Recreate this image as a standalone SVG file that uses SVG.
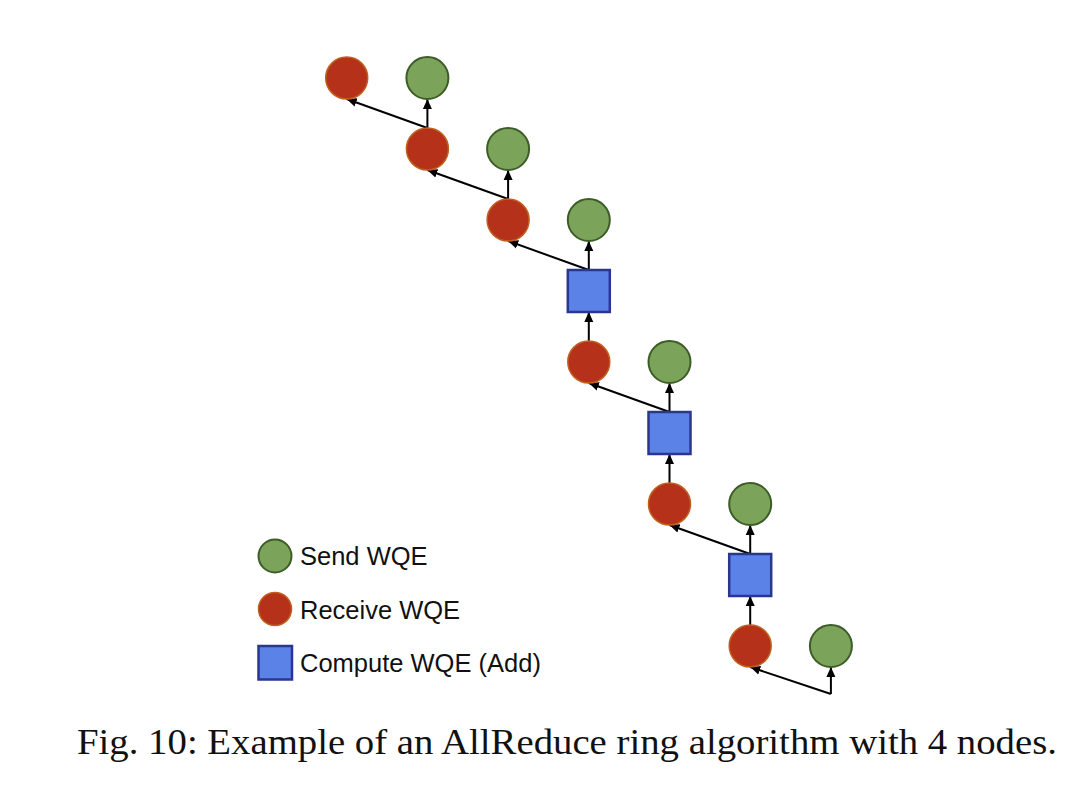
<svg xmlns="http://www.w3.org/2000/svg" width="1080" height="796" viewBox="0 0 1080 796">
<style>
.send{fill:#7ba35a;stroke:#3d5c27;stroke-width:2}
.recv{fill:#b5311a;stroke:#c0601f;stroke-width:1.5}
.comp{fill:#5b82e6;stroke:#2a3690;stroke-width:2.5}
.edge{stroke:#000;stroke-width:2;fill:none;marker-end:url(#ah)}
.lbl{font-family:'Liberation Sans',Arial,sans-serif;font-size:25.5px;fill:#111}
.cap{font-family:'Liberation Serif','Times New Roman',serif;font-size:35px;fill:#111}
</style>
<defs>
<marker id="ah" markerUnits="userSpaceOnUse" markerWidth="10" markerHeight="10" viewBox="0 0 10 10" refX="10" refY="5" orient="auto">
<path d="M0,0.5 L10,5 L0,9.5 z" fill="#000"/>
</marker>
</defs>
<rect width="1080" height="796" fill="#fff"/>
<g id="connectors">
<line class="edge" x1="427.4" y1="128" x2="427.4" y2="99"/>
<line class="edge" x1="427.4" y1="128" x2="346.7" y2="99"/>
<line class="edge" x1="508.1" y1="199" x2="508.1" y2="170"/>
<line class="edge" x1="508.1" y1="199" x2="427.4" y2="170"/>
<line class="edge" x1="588.8" y1="270" x2="588.8" y2="241"/>
<line class="edge" x1="588.8" y1="270" x2="508.1" y2="241"/>
<line class="edge" x1="588.8" y1="341" x2="588.8" y2="312"/>
<line class="edge" x1="669.5" y1="412" x2="669.5" y2="383"/>
<line class="edge" x1="669.5" y1="412" x2="588.8" y2="383"/>
<line class="edge" x1="669.5" y1="483" x2="669.5" y2="454"/>
<line class="edge" x1="750.2" y1="554" x2="750.2" y2="525"/>
<line class="edge" x1="750.2" y1="554" x2="669.5" y2="525"/>
<line class="edge" x1="750.2" y1="625" x2="750.2" y2="596"/>
<line class="edge" x1="830.9" y1="694" x2="830.9" y2="667"/>
<line class="edge" x1="830.9" y1="694" x2="750.2" y2="667"/>
</g>
<g id="r0"><circle class="recv" cx="346.7" cy="78" r="21"/></g>
<g id="s0"><circle class="send" cx="427.4" cy="78" r="21"/></g>
<g id="r1"><circle class="recv" cx="427.4" cy="149" r="21"/></g>
<g id="s1"><circle class="send" cx="508.1" cy="149" r="21"/></g>
<g id="r2"><circle class="recv" cx="508.1" cy="220" r="21"/></g>
<g id="s2"><circle class="send" cx="588.8" cy="220" r="21"/></g>
<g id="c0"><rect class="comp" x="567.8" y="270" width="42" height="42"/></g>
<g id="r3"><circle class="recv" cx="588.8" cy="362" r="21"/></g>
<g id="s3"><circle class="send" cx="669.5" cy="362" r="21"/></g>
<g id="c1"><rect class="comp" x="648.5" y="412" width="42" height="42"/></g>
<g id="r4"><circle class="recv" cx="669.5" cy="504" r="21"/></g>
<g id="s4"><circle class="send" cx="750.2" cy="504" r="21"/></g>
<g id="c2"><rect class="comp" x="729.2" y="554" width="42" height="42"/></g>
<g id="r5"><circle class="recv" cx="750.2" cy="646" r="21"/></g>
<g id="s5"><circle class="send" cx="830.9" cy="646" r="21"/></g>
<g id="legend">
<circle class="send" cx="275" cy="556" r="16.5"/>
<text class="lbl" x="300" y="565">Send WQE</text>
<circle class="recv" cx="275" cy="609" r="16.5"/>
<text class="lbl" x="300" y="618.5">Receive WQE</text>
<rect class="comp" x="258.5" y="646" width="33.5" height="33.5"/>
<text class="lbl" x="300" y="672">Compute WQE (Add)</text>
</g>
<text class="cap" x="77" y="754" textLength="980" lengthAdjust="spacingAndGlyphs">Fig. 10: Example of an AllReduce ring algorithm with 4 nodes.</text>
</svg>
